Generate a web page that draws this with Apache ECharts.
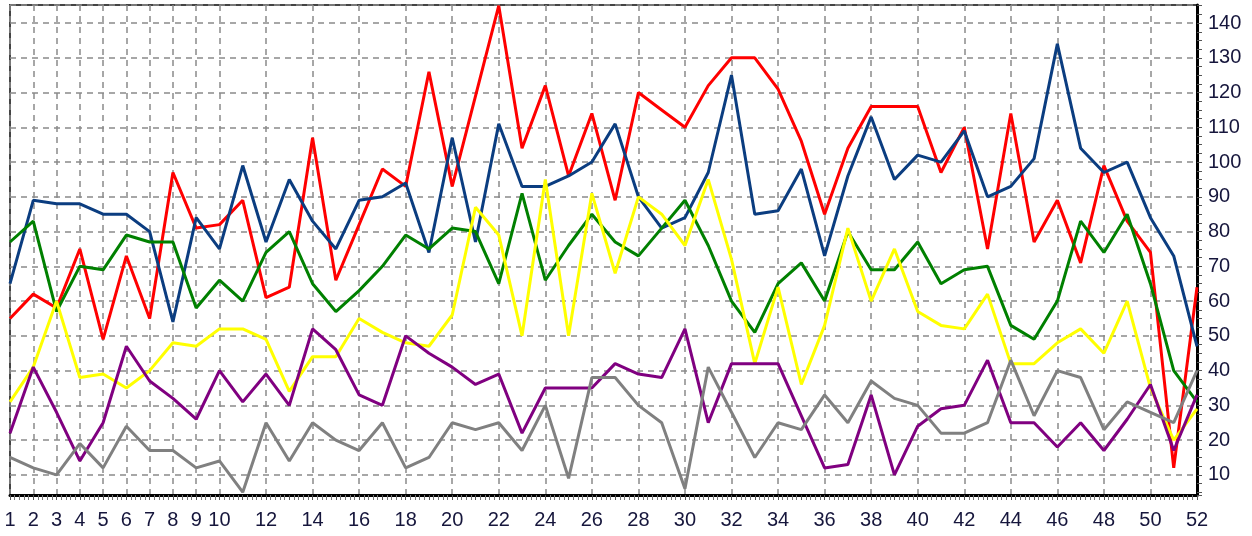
<!DOCTYPE html>
<html>
<head>
<meta charset="utf-8">
<script src="https://cdn.jsdelivr.net/npm/echarts@6.0.0/dist/echarts.min.js"></script>
<style>
    html, body { margin: 0; padding: 0; background: #fff; }
    #main { width: 1252px; height: 536px; }
</style>
</head>
<body>
<div id="main"></div>
<script>
// weeks 1..52
const weeks = [];
for (let w = 1; w <= 52; w++) weeks.push(String(w));

const redData = [55, 62, 58, 75, 49, 73, 55, 97, 81, 82, 89, 61, 64, 107, 66, 82, 98, 93, 126, 93, 119, 145, 104, 122, 96, 114,
    89, 120, 115, 110, 122, 130, 130, 121, 106, 85, 104, 116, 116, 116, 97, 110, 75, 114, 77, 89, 71, 99, 83, 74, 12, 64];
const blueData = [65, 89, 88, 88, 85, 85, 80, 54, 84, 75, 99, 77, 95, 83, 75, 89, 90, 94, 74, 107, 77, 111, 93, 93, 96, 100,
    111, 90, 81, 84, 97, 125, 85, 86, 98, 73, 96, 113, 95, 102, 100, 109, 90, 93, 101, 134, 104, 97, 100, 84, 73, 47];
const greenData = [77, 83, 57, 70, 69, 79, 77, 77, 58, 66, 60, 74, 80, 65, 57, 63, 70, 79, 75, 81, 80, 65, 91, 66, 76, 85,
    77, 73, 81, 89, 76, 60, 51, 65, 71, 60, 80, 69, 69, 77, 65, 69, 70, 53, 49, 60, 83, 74, 85, 65, 40, 31];
const yellowData = [31, 41, 60, 38, 39, 35, 40, 48, 47, 52, 52, 49, 34, 44, 44, 55, 51, 48, 47, 56, 87, 79, 50, 95, 50, 91,
    68, 90, 85, 76, 95, 72, 42, 64, 36, 53, 81, 60, 75, 57, 53, 52, 62, 42, 42, 48, 52, 45, 60, 35, 20, 29];
const purpleData = [22, 41, 28, 14, 25, 47, 37, 32, 26, 40, 31, 39, 30, 52, 46, 33, 30, 50, 45, 41, 36, 39, 22, 35, 35, 35,
    42, 39, 38, 52, 25, 42, 42, 42, 27, 12, 13, 33, 10, 24, 29, 30, 43, 25, 25, 18, 25, 17, 26, 36, 17, 33];
const grayData = [15, 12, 10, 19, 12, 24, 17, 17, 12, 14, 5, 25, 14, 25, 20, 17, 25, 12, 15, 25, 23, 25, 17, 30, 9, 38,
    38, 30, 25, 6, 41, 28, 15, 25, 23, 33, 25, 37, 32, 30, 22, 22, 25, 43, 27, 40, 38, 23, 31, 28, 25, 40];

const seriesList = [
    { name: 'red', data: redData, color: '#ff0000' },
    { name: 'blue', data: blueData, color: '#0b3d80' },
    { name: 'green', data: greenData, color: '#008000' },
    { name: 'yellow', data: yellowData, color: '#ffff00' },
    { name: 'purple', data: purpleData, color: '#800080' },
    { name: 'gray', data: grayData, color: '#808080' }
];

// labels 1..10, then only even weeks
function showWeek(index) {
    return index < 10 || index % 2 === 1;
}

const chart = echarts.init(document.getElementById('main'));
const labelFont = {
    fontFamily: 'Liberation Sans',
    fontSize: 20,
    color: '#16163c'
};
const gridDash = {
    color: '#8a8a8a',
    width: 1.5,
    type: [6, 5]
};

chart.setOption({
    animation: false,
    grid: {
        left: 10,
        right: 55,
        top: 5,
        bottom: 41,
        outerBoundsMode: 'none',
        show: true,
        borderColor: '#444',
        borderWidth: 2
    },
    xAxis: [
        {
            type: 'category',
            data: weeks,
            boundaryGap: false,
            axisLine: { lineStyle: { color: '#000', width: 3 } },
            axisTick: { show: false },
            axisLabel: Object.assign({ interval: showWeek, margin: 15 }, labelFont),
            splitLine: { show: true, interval: showWeek, lineStyle: gridDash }
        },
        {
            // only for the small tick marks under the axis
            type: 'value',
            position: 'bottom',
            min: 1,
            max: 52,
            interval: 1,
            axisLine: { show: false },
            axisLabel: { show: false },
            splitLine: { show: false },
            axisTick: { show: true, length: 5, lineStyle: { color: '#555', width: 1 } },
            minorTick: { show: true, splitNumber: 5, length: 5, lineStyle: { color: '#777', width: 1 } }
        }
    ],
    yAxis: {
        type: 'value',
        position: 'right',
        min: 4.2,
        max: 145.2,
        splitNumber: 14,
        axisLine: { show: true, lineStyle: { color: '#000', width: 3 } },
        axisTick: { show: true, length: 5, lineStyle: { color: '#555', width: 1 } },
        minorTick: { show: true, splitNumber: 4, length: 5, lineStyle: { color: '#555', width: 1 } },
        axisLabel: Object.assign({ margin: 11, showMinLabel: false, showMaxLabel: false }, labelFont),
        splitLine: { show: true, lineStyle: gridDash }
    },
    series: seriesList.map(s => ({
        name: s.name,
        type: 'line',
        data: s.data,
        showSymbol: false,
        symbol: 'none',
        lineStyle: { color: s.color, width: 3 },
        itemStyle: { color: s.color }
    }))
});
</script>
</body>
</html>
